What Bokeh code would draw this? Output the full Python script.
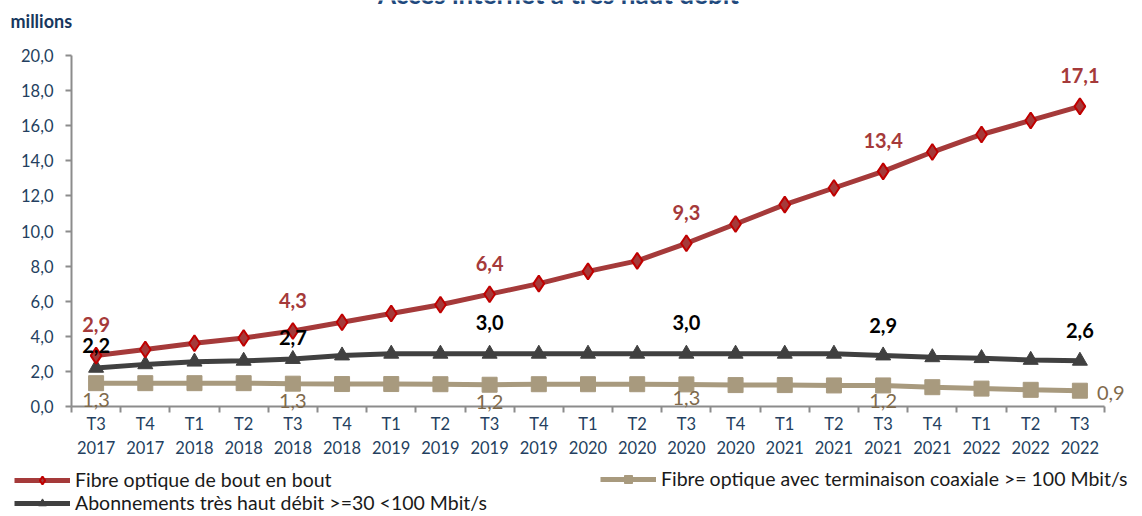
from bokeh.plotting import figure
from bokeh.models import (Range1d, FixedTicker, CustomJSTickFormatter, Legend, LegendItem,
                          LabelSet, Label, ColumnDataSource)
from bokeh.core.properties import value
from bokeh.embed import file_html
from bokeh.resources import INLINE

# ---------------- data ----------------
periods = ["T3\n2017", "T4\n2017", "T1\n2018", "T2\n2018", "T3\n2018", "T4\n2018",
           "T1\n2019", "T2\n2019", "T3\n2019", "T4\n2019", "T1\n2020", "T2\n2020",
           "T3\n2020", "T4\n2020", "T1\n2021", "T2\n2021", "T3\n2021", "T4\n2021",
           "T1\n2022", "T2\n2022", "T3\n2022"]
fibre = [2.9, 3.25, 3.6, 3.9, 4.3, 4.8, 5.3, 5.8, 6.4, 7.0, 7.7, 8.3, 9.3, 10.4,
         11.5, 12.45, 13.4, 14.5, 15.5, 16.3, 17.1]
thd = [2.2, 2.4, 2.55, 2.6, 2.7, 2.9, 3.0, 3.0, 3.0, 3.0, 3.0, 3.0, 3.0, 3.0,
       3.0, 3.0, 2.9, 2.8, 2.75, 2.65, 2.6]
coax = [1.33, 1.33, 1.33, 1.33, 1.3, 1.28, 1.28, 1.27, 1.24, 1.27, 1.27, 1.27, 1.26,
        1.22, 1.22, 1.2, 1.2, 1.1, 1.02, 0.95, 0.9]
labelled = [0, 4, 8, 12, 16, 20]   # T3 quarters carry a data label
y_ticks = [0, 2, 4, 6, 8, 10, 12, 14, 16, 18, 20]
y_max = 20

name_fibre = "Fibre optique de bout en bout"
name_coax = "Fibre optique avec terminaison coaxiale >= 100 Mbit/s"
name_thd = "Abonnements très haut débit >=30 <100 Mbit/s"
title_text = "Accès internet à très haut débit"
unit_text = "millions"

# ---------------- style / layout ----------------
FONT = "Lato"
RED = "#A53A3A"
RED_EDGE = "#C00000"
DARK = "#404040"
TAN = "#A89A7E"
TAN_TXT = "#7F6A4C"
AXIS_TXT = "#243F60"
AXIS_LINE = "#8C8C8C"

W, H = 1142, 516
PLOT_L, PLOT_R, PLOT_T, PLOT_B = 71, 1104, 55, 406   # pixel box of the axes

n = len(periods)
xs = [i + 0.5 for i in range(n)]
px_x = (PLOT_R - PLOT_L) / n
px_y = (PLOT_B - PLOT_T) / y_max

p = figure(width=W, height=H, output_backend="svg", toolbar_location=None,
           x_range=Range1d(-PLOT_L / px_x, (W - PLOT_L) / px_x),
           y_range=Range1d(-(H - PLOT_B) / px_y, y_max + PLOT_T / px_y),
           min_border=0)
p.outline_line_color = None
p.xgrid.visible = False
p.ygrid.visible = False
p.background_fill_color = "white"
p.border_fill_color = "white"

src = ColumnDataSource(dict(x=xs, fibre=fibre, thd=thd, coax=coax))

r_coax_l = p.line("x", "coax", source=src, line_color=TAN, line_width=5)
r_coax_m = p.scatter("x", "coax", source=src, marker="square", size=15,
                     fill_color=TAN, line_color=TAN)
r_thd_l = p.line("x", "thd", source=src, line_color=DARK, line_width=5)
r_thd_m = p.scatter("x", "thd", source=src, marker="triangle", size=15,
                    fill_color=DARK, line_color=DARK)
r_fib_l = p.line("x", "fibre", source=src, line_color=RED, line_width=5)
r_fib_m = p.scatter("x", "fibre", source=src, marker="diamond", size=16,
                    fill_color=RED, line_color=RED_EDGE, line_width=2)

# ---------------- axes ----------------
xa = p.xaxis[0]
xa.fixed_location = 0
xa.bounds = (0, n)
xa.ticker = FixedTicker(ticks=xs, minor_ticks=list(range(n + 1)))
xa.formatter = CustomJSTickFormatter(args=dict(labels=periods),
                                     code="return labels[Math.round(tick - 0.5)];")
xa.major_tick_out = 0
xa.major_tick_in = 0
xa.minor_tick_out = 6
xa.minor_tick_in = 0
xa.minor_tick_line_color = AXIS_LINE
xa.minor_tick_line_width = 2
xa.axis_line_color = AXIS_LINE
xa.axis_line_width = 2
xa.major_label_text_font = FONT
xa.major_label_text_font_size = "16.5px"
xa.major_label_text_color = AXIS_TXT
xa.major_label_standoff = 1

ya = p.yaxis[0]
ya.fixed_location = 0
ya.bounds = (0, y_max)
ya.ticker = FixedTicker(ticks=y_ticks, minor_ticks=[])
ya.formatter = CustomJSTickFormatter(code="return tick.toFixed(1).replace('.', ',');")
ya.major_tick_out = 6
ya.major_tick_in = 0
ya.major_tick_line_color = AXIS_LINE
ya.major_tick_line_width = 2
ya.axis_line_color = AXIS_LINE
ya.axis_line_width = 2
ya.major_label_text_font = FONT
ya.major_label_text_font_size = "16.5px"
ya.major_label_text_color = AXIS_TXT
ya.major_label_standoff = 12


def fmt(v):
    return f"{v:.1f}".replace(".", ",")


# ---------------- data labels ----------------
lab_common = dict(text_baseline="middle", text_font=value(FONT), text_font_size="20px")

fib_src = ColumnDataSource(dict(x=[xs[i] for i in labelled], y=[fibre[i] for i in labelled],
                                t=[fmt(fibre[i]) for i in labelled]))
p.add_layout(LabelSet(x="x", y="y", text="t", source=fib_src, y_offset=31,
                      text_align="center", text_font_style="bold", text_color=RED,
                      **lab_common))

thd_off = [22, 22, 31, 31, 30, 30]
thd_src = ColumnDataSource(dict(x=[xs[i] for i in labelled], y=[thd[i] for i in labelled],
                                t=[fmt(thd[i]) for i in labelled], off=thd_off))
p.add_layout(LabelSet(x="x", y="y", text="t", source=thd_src, y_offset="off",
                      text_align="center", text_font_style="bold", text_color="black",
                      **lab_common))

coax_dx = [0, 0, 0, 0, 0, 17]
coax_dy = [-17, -17, -17, -14, -16, -2]
coax_al = ["center", "center", "center", "center", "center", "left"]
coax_src = ColumnDataSource(dict(x=[xs[i] for i in labelled], y=[coax[i] for i in labelled],
                                 t=[fmt(coax[i]) for i in labelled], dx=coax_dx, dy=coax_dy,
                                 al=coax_al))
p.add_layout(LabelSet(x="x", y="y", text="t", source=coax_src, x_offset="dx", y_offset="dy",
                      text_align="al", text_color=TAN_TXT, **lab_common))

# ---------------- unit & title ----------------
p.add_layout(Label(x=10, y=H - 20, x_units="screen", y_units="screen", text=unit_text,
                   text_font=FONT, text_font_style="bold", text_font_size="18px",
                   text_color="#17375E", text_baseline="middle", text_align="left"))
p.add_layout(Label(x=558, y=H + 7, x_units="screen", y_units="screen", text=title_text,
                   text_font=FONT, text_font_style="bold", text_font_size="26px",
                   text_color="#1F497D", text_baseline="alphabetic", text_align="center"))

# ---------------- legends ----------------
common = dict(border_line_alpha=0, background_fill_alpha=0, padding=0, margin=0, spacing=0,
              glyph_width=56, glyph_height=20, label_height=20, label_standoff=5,
              label_text_font=FONT, label_text_font_size="19.5px", label_text_color="#1A1A1A")
leg1 = Legend(items=[LegendItem(label=name_fibre, renderers=[r_fib_l, r_fib_m]),
                     LegendItem(label=name_thd, renderers=[r_thd_l, r_thd_m])],
              location=(14, 2), **common)
leg2 = Legend(items=[LegendItem(label=name_coax, renderers=[r_coax_l, r_coax_m])],
              location=(600, 26), **common)
p.add_layout(leg1)
p.add_layout(leg2)

open("out.html", "w").write(file_html(p, INLINE))
